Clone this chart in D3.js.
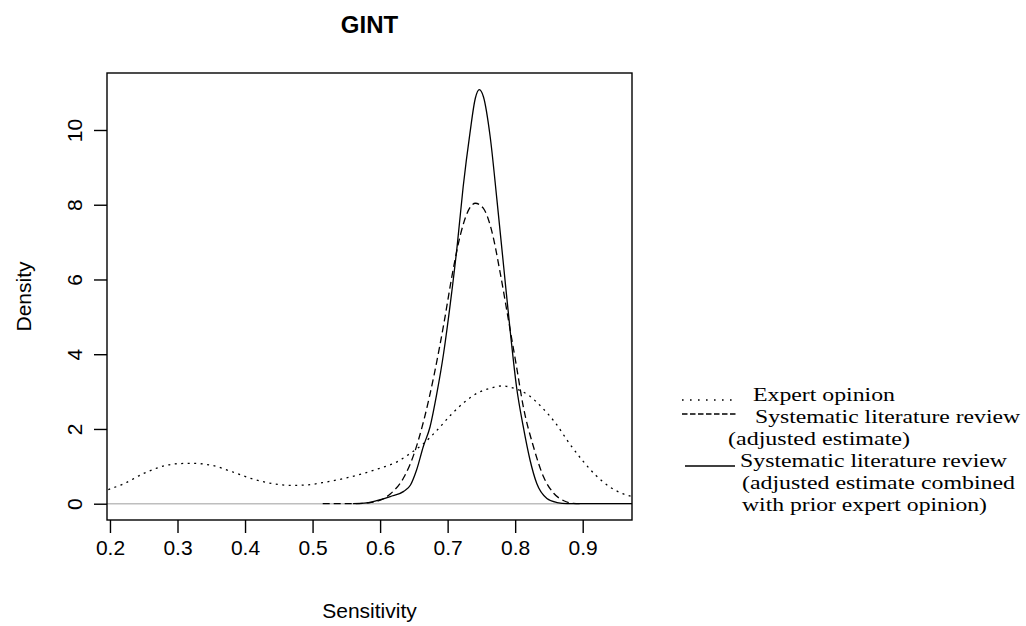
<!DOCTYPE html>
<html>
<head>
<meta charset="utf-8">
<script src="https://cdn.jsdelivr.net/npm/d3@7"></script>
<style>
  html, body { margin: 0; padding: 0; background: #fff; }
  svg { display: block; }
  .ax text { font-family: "Liberation Sans", Arial, sans-serif; }
</style>
</head>
<body>
<svg id="chart" width="1026" height="626"></svg>
<script>
// Kernel density curves of test sensitivity (GINT)
const expertX = [0.17, 0.196, 0.22, 0.25, 0.28, 0.30, 0.32, 0.35, 0.38, 0.41, 0.44, 0.47, 0.49, 0.52, 0.55,
  0.575, 0.60, 0.625, 0.645, 0.665, 0.685, 0.705, 0.725, 0.745, 0.765, 0.78, 0.80, 0.82, 0.84, 0.86,
  0.88, 0.90, 0.92, 0.94, 0.955, 0.975, 0.99];
const expertY = [0.22, 0.37, 0.53, 0.81, 1.01, 1.07, 1.08, 1.03, 0.86, 0.67, 0.54, 0.49, 0.50, 0.58, 0.69,
  0.81, 0.95, 1.12, 1.35, 1.62, 1.98, 2.38, 2.72, 2.97, 3.10, 3.15, 3.08, 2.90, 2.57, 2.15,
  1.62, 1.15, 0.75, 0.45, 0.30, 0.18, 0.12];

const reviewX = [0.515, 0.56, 0.58, 0.595, 0.615, 0.635, 0.65, 0.665, 0.68, 0.695, 0.707, 0.719, 0.729,
  0.741, 0.753, 0.765, 0.778, 0.79, 0.802, 0.812, 0.827, 0.842, 0.857, 0.872, 0.886, 0.90];
const reviewY = [0, 0, 0.02, 0.06, 0.26, 0.70, 1.32, 2.25, 3.45, 4.88, 6.15, 7.20, 7.78,
  8.04, 7.90, 7.32, 6.16, 4.92, 3.67, 2.60, 1.53, 0.72, 0.28, 0.08, 0.01, 0];

const combinedX = [0.56, 0.58, 0.595, 0.615, 0.635, 0.645, 0.654, 0.664, 0.674, 0.684, 0.694, 0.704, 0.714,
  0.723, 0.733, 0.741, 0.747, 0.753, 0.763, 0.773, 0.783, 0.793, 0.802, 0.812, 0.822, 0.832, 0.847,
  0.862, 0.877, 0.99];
const combinedY = [0, 0.02, 0.08, 0.19, 0.33, 0.50, 0.90, 1.53, 2.06, 2.95, 4.02, 5.36, 6.88,
  8.48, 9.91, 10.85, 11.08, 10.89, 9.82, 8.13, 6.34, 4.56, 3.13, 2.06, 1.17, 0.54, 0.14,
  0.03, 0, 0];

const xTicks = [0.2, 0.3, 0.4, 0.5, 0.6, 0.7, 0.8, 0.9];
const yTicks = [0, 2, 4, 6, 8, 10];
const xDomain = [0.1956, 0.973];
const yDomain = [-0.436, 11.525];

const legendLabels = [
  ["Expert opinion"],
  ["Systematic literature review", "(adjusted estimate)"],
  ["Systematic literature review", "(adjusted estimate combined", "with prior expert opinion)"]
];

const svg = d3.select("#chart");
const L = 107, R = 632, T = 73, B = 520;

const x = d3.scaleLinear().domain(xDomain).range([L, R]);
const y = d3.scaleLinear().domain(yDomain).range([B, T]);

svg.append("defs").append("clipPath").attr("id", "plotclip")
  .append("rect").attr("x", L).attr("y", T).attr("width", R - L).attr("height", B - T);

// zero reference line
svg.append("line")
  .attr("x1", L).attr("x2", R).attr("y1", y(0)).attr("y2", y(0))
  .attr("stroke", "#bebebe").attr("stroke-width", 1.4);

const line = d3.line().x(d => x(d[0])).y(d => y(d[1])).curve(d3.curveMonotoneX);
const curves = [
  { xs: expertX, ys: expertY, dash: "2,4.5" },
  { xs: reviewX, ys: reviewY, dash: "7,4" },
  { xs: combinedX, ys: combinedY, dash: null }
];
const g = svg.append("g").attr("clip-path", "url(#plotclip)");
curves.forEach(c => {
  g.append("path")
    .attr("d", line(d3.zip(c.xs, c.ys)))
    .attr("fill", "none").attr("stroke", "#000").attr("stroke-width", 1.3)
    .attr("stroke-dasharray", c.dash);
});

// frame
svg.append("rect").attr("x", L).attr("y", T).attr("width", R - L).attr("height", B - T)
  .attr("fill", "none").attr("stroke", "#000").attr("stroke-width", 1.4);

// x axis
const xAxis = d3.axisBottom(x).tickValues(xTicks).tickSize(13).tickPadding(22)
  .tickFormat(d3.format(".1f"));
const gx = svg.append("g").attr("class", "ax").attr("transform", `translate(0,${B})`).call(xAxis);
gx.select(".domain").remove();
gx.selectAll(".tick line").attr("stroke", "#000").attr("stroke-width", 1.4);
gx.selectAll(".tick text").attr("font-size", 21).attr("fill", "#000").attr("dy", "0");

// y axis
const yAxis = d3.axisLeft(y).tickValues(yTicks).tickSize(13).tickFormat(d3.format("d"));
const gy = svg.append("g").attr("class", "ax").attr("transform", `translate(${L},0)`).call(yAxis);
gy.select(".domain").remove();
gy.selectAll(".tick line").attr("stroke", "#000").attr("stroke-width", 1.4);
gy.selectAll(".tick text")
  .attr("font-size", 21).attr("fill", "#000")
  .attr("x", null).attr("dy", null)
  .attr("text-anchor", "middle")
  .attr("transform", "translate(-25,0) rotate(-90)");

// titles
const font = "'Liberation Sans', Arial, sans-serif";
svg.append("text").attr("x", (L + R) / 2).attr("y", 33).attr("text-anchor", "middle")
  .attr("font-family", font).attr("font-weight", "bold").attr("font-size", 24).text("GINT");
svg.append("text").attr("x", (L + R) / 2).attr("y", 618).attr("text-anchor", "middle")
  .attr("font-family", font).attr("font-size", 21).text("Sensitivity");
svg.append("text").attr("transform", `translate(31,${(T + B) / 2}) rotate(-90)`)
  .attr("text-anchor", "middle")
  .attr("font-family", font).attr("font-size", 21).text("Density");

// legend: serif text, widened to the set widths
const serif = "'Liberation Serif', 'Times New Roman', serif";
const lg = svg.append("g").attr("font-family", serif).attr("font-size", 19.8).attr("fill", "#000");
const rows = [
  { x: 753, y: 401, w: 142, t: legendLabels[0][0] },
  { x: 755, y: 423, w: 265, t: legendLabels[1][0] },
  { x: 728, y: 445, w: 182, t: legendLabels[1][1] },
  { x: 740, y: 467, w: 267, t: legendLabels[2][0] },
  { x: 742, y: 489, w: 273, t: legendLabels[2][1] },
  { x: 742, y: 511, w: 245, t: legendLabels[2][2] }
];
rows.forEach(r => lg.append("text").attr("x", r.x).attr("y", r.y)
  .attr("textLength", r.w).attr("lengthAdjust", "spacingAndGlyphs").text(r.t));

// legend keys
lg.append("line").attr("x1", 682).attr("x2", 732).attr("y1", 400).attr("y2", 400)
  .attr("stroke", "#000").attr("stroke-width", 1.6).attr("stroke-dasharray", "1.6,6.4");
lg.append("line").attr("x1", 682).attr("x2", 737).attr("y1", 414).attr("y2", 414)
  .attr("stroke", "#000").attr("stroke-width", 1.3).attr("stroke-dasharray", "5.5,2.5");
lg.append("line").attr("x1", 685).attr("x2", 735).attr("y1", 466).attr("y2", 466)
  .attr("stroke", "#000").attr("stroke-width", 1.4);
</script>
</body>
</html>
